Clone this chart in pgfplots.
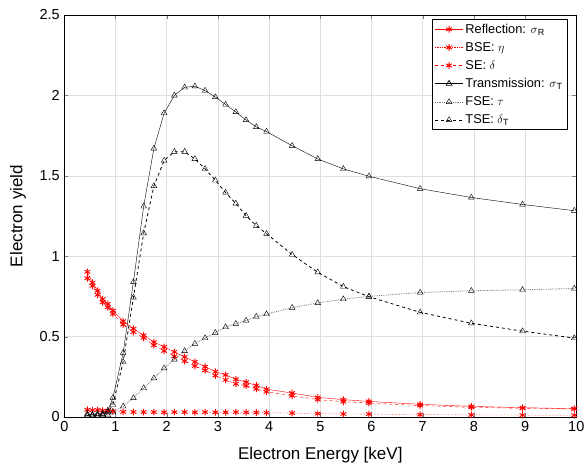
\documentclass[border=0pt]{standalone}
\usepackage{pgfplots}
\pgfplotsset{compat=1.18}
\usepackage{pgfplotstable}
\usepackage{fontspec}
\setmainfont{Liberation Sans}
\pgfplotstableread{
x     R     SE    BSE   T     TSE   FSE
0.45 0.903 0.863 0.045 0.020 0.010 0.010
0.55 0.836 0.815 0.042 0.015 0.010 0.010
0.65 0.785 0.760 0.044 0.020 0.010 0.010
0.75 0.733 0.713 0.040 0.020 0.015 0.010
0.85 0.703 0.682 0.038 0.040 0.030 0.012
0.95 0.662 0.641 0.035 0.120 0.077 0.030
1.15 0.596 0.575 0.032 0.400 0.343 0.066
1.35 0.549 0.528 0.031 0.840 0.743 0.118
1.55 0.508 0.493 0.030 1.310 1.143 0.180
1.75 0.466 0.446 0.030 1.670 1.437 0.241
1.95 0.436 0.411 0.029 1.890 1.595 0.303
2.15 0.405 0.378 0.030 2.000 1.650 0.358
2.35 0.374 0.348 0.030 2.050 1.650 0.411
2.55 0.343 0.317 0.029 2.057 1.605 0.456
2.75 0.313 0.290 0.030 2.030 1.543 0.491
2.95 0.282 0.258 0.029 1.990 1.472 0.524
3.15 0.262 0.231 0.029 1.943 1.396 0.559
3.35 0.235 0.206 0.030 1.897 1.328 0.580
3.55 0.217 0.194 0.029 1.847 1.252 0.600
3.75 0.196 0.175 0.028 1.804 1.190 0.625
3.95 0.173 0.157 0.027 1.775 1.140 0.640
4.45 0.149 0.132 0.024 1.687 1.010 0.680
4.95 0.122 0.108 0.021 1.605 0.900 0.709
5.45 0.108 0.095 0.019 1.543 0.811 0.733
5.95 0.097 0.087 0.018 1.497 0.748 0.750
6.95 0.079 0.071 0.015 1.420 0.651 0.774
7.95 0.066 0.060 0.013 1.365 0.583 0.785
8.95 0.058 0.054 0.012 1.322 0.534 0.791
9.96 0.052 0.050 0.011 1.283 0.491 0.799
}\data
\begin{document}
\begin{tikzpicture}
\begin{axis}[
  scale only axis,
  anchor=south west, at={(0,0)},
  width=512pt, height=402pt,
  xmin=0, xmax=10, ymin=0, ymax=2.5,
  xtick={0,1,...,10},
  ytick={0,0.5,1,1.5,2,2.5},
  yticklabels={0,0.5,1,1.5,2,2.5},
  /pgf/number format/assume math mode=true,
  tick label style={font=\fontsize{14.5}{16}\selectfont},
  label style={font=\fontsize{17}{20}\selectfont},
  xlabel={Electron Energy [keV]},
  ylabel={Electron yield},
  xlabel style={at={(axis description cs:0.5,-0.0945)}, anchor=center},
  ylabel style={at={(axis description cs:-0.0904,0.5)}, anchor=center},
  xticklabel style={yshift=-1pt},
  yticklabel style={xshift=-1pt},
  grid=major,
  major grid style={gray!25, line width=0.6pt},
  tick align=inside,
  major tick length=4pt,
  axis line style={black, line width=0.6pt},
  legend style={at={(0.9825,0.99)}, anchor=north east,
    font=\fontsize{12.8}{14.5}\selectfont, draw=black, line width=0.7pt,
    row sep=3.6pt, inner sep=2.5pt},
  legend image code/.code={\draw[mark repeat=2,mark phase=2] plot coordinates {(0pt,0pt) (14pt,0pt) (28pt,0pt)};},
  legend cell align=left,
]
\addplot[red, solid, mark=asterisk, mark size=3.3pt, mark options={solid, line width=0.9pt}] table[x=x,y=R]{\data};
\addlegendentry{Reflection: $\sigma$\textsubscript{R}}
\addplot[red, densely dotted, mark=asterisk, mark size=3.3pt, mark options={solid, line width=0.9pt}] table[x=x,y=BSE]{\data};
\addlegendentry{BSE: $\eta$}
\addplot[red, dashed, mark=asterisk, mark size=3.3pt, mark options={solid, line width=0.9pt}] table[x=x,y=SE]{\data};
\addlegendentry{SE: $\delta$}
\addplot[black, solid, mark=triangle, mark size=3.3pt, mark options={solid}] table[x=x,y=T]{\data};
\addlegendentry{Transmission: $\sigma$\textsubscript{T}}
\addplot[black!55, densely dotted, line width=0.8pt, mark=triangle, mark size=3.3pt, mark options={solid, black, line width=0.4pt}] table[x=x,y=FSE]{\data};
\addlegendentry{FSE: $\tau$}
\addplot[black, dashed, line width=0.8pt, mark=triangle, mark size=3.3pt, mark options={solid, line width=0.4pt}] table[x=x,y=TSE]{\data};
\addlegendentry{TSE: $\delta$\textsubscript{T}}
\end{axis}
\pgfresetboundingbox
\path (-64.3pt,-50pt) rectangle (519.7pt,417pt);
\end{tikzpicture}
\end{document}
